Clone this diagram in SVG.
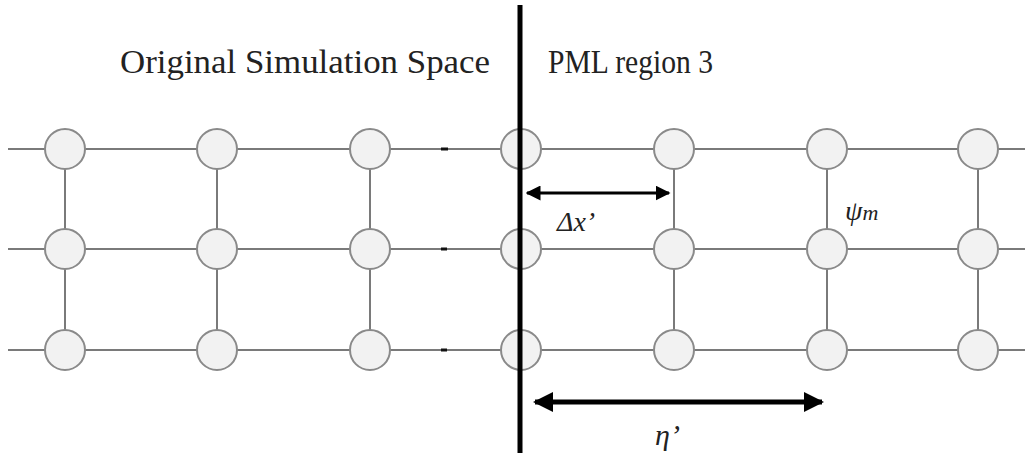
<svg xmlns="http://www.w3.org/2000/svg" width="1025" height="453" viewBox="0 0 1025 453">
<defs>
<style>
.ln{stroke:#7a7a7a;stroke-width:2;fill:none}
.nd{fill:#f2f2f2;stroke:#8a8a8a;stroke-width:2}
.tt{font-size:33px;fill:#222}
.it{font-style:italic;fill:#222}
.tk{stroke:#111;stroke-width:3}
</style>
<marker id="ah" viewBox="0 0 10 10" refX="9" refY="5" markerWidth="5" markerHeight="5" orient="auto-start-reverse">
<path d="M0,0 L10,5 L0,10 Z" fill="#000"/>
</marker>
<marker id="ah2" viewBox="0 0 10 10" refX="9" refY="5" markerWidth="4" markerHeight="4" orient="auto-start-reverse">
<path d="M0,0 L10,5 L0,10 Z" fill="#000"/>
</marker>
</defs>
<rect width="1025" height="453" fill="#fff"/>
<g id="connectors">
<line class="ln" x1="8" y1="149" x2="1025" y2="149"/>
<line class="ln" x1="8" y1="249" x2="1025" y2="249"/>
<line class="ln" x1="8" y1="350" x2="1025" y2="350"/>
<line class="ln" x1="65" y1="149" x2="65" y2="350"/>
<line class="ln" x1="217" y1="149" x2="217" y2="350"/>
<line class="ln" x1="370" y1="149" x2="370" y2="350"/>
<line class="ln" x1="674" y1="149" x2="674" y2="350"/>
<line class="ln" x1="827" y1="149" x2="827" y2="350"/>
<line class="ln" x1="978" y1="149" x2="978" y2="350"/>
<line class="tk" x1="441" y1="149" x2="448" y2="149"/>
<line class="tk" x1="441" y1="249" x2="447" y2="249" stroke-width="2"/>
<line class="tk" x1="441" y1="350" x2="447" y2="350" stroke-width="2"/>
</g>
<g id="nodes">
<g id="n11"><circle class="nd" cx="65" cy="149" r="20"/></g>
<g id="n12"><circle class="nd" cx="217" cy="149" r="20"/></g>
<g id="n13"><circle class="nd" cx="370" cy="149" r="20"/></g>
<g id="n14"><circle class="nd" cx="521" cy="149" r="20"/></g>
<g id="n15"><circle class="nd" cx="674" cy="149" r="20"/></g>
<g id="n16"><circle class="nd" cx="827" cy="149" r="20"/></g>
<g id="n17"><circle class="nd" cx="978" cy="149" r="20"/></g>
<g id="n21"><circle class="nd" cx="65" cy="249" r="20"/></g>
<g id="n22"><circle class="nd" cx="217" cy="249" r="20"/></g>
<g id="n23"><circle class="nd" cx="370" cy="249" r="20"/></g>
<g id="n24"><circle class="nd" cx="521" cy="249" r="20"/></g>
<g id="n25"><circle class="nd" cx="674" cy="249" r="20"/></g>
<g id="n26"><circle class="nd" cx="827" cy="249" r="20"/></g>
<g id="n27"><circle class="nd" cx="978" cy="249" r="20"/></g>
<g id="n31"><circle class="nd" cx="65" cy="350" r="20"/></g>
<g id="n32"><circle class="nd" cx="217" cy="350" r="20"/></g>
<g id="n33"><circle class="nd" cx="370" cy="350" r="20"/></g>
<g id="n34"><circle class="nd" cx="521" cy="350" r="20"/></g>
<g id="n35"><circle class="nd" cx="674" cy="350" r="20"/></g>
<g id="n36"><circle class="nd" cx="827" cy="350" r="20"/></g>
<g id="n37"><circle class="nd" cx="978" cy="350" r="20"/></g>
</g>
<g id="boundary">
<line x1="520" y1="5" x2="520" y2="453" stroke="#000" stroke-width="5"/>
</g>
<g id="dimensions">
<line x1="527" y1="193" x2="669" y2="193" stroke="#000" stroke-width="3" marker-start="url(#ah)" marker-end="url(#ah)"/>
<line x1="535" y1="402" x2="822" y2="402" stroke="#000" stroke-width="5" marker-start="url(#ah2)" marker-end="url(#ah2)"/>
</g>
<g id="labels" font-family="Liberation Serif, DejaVu Serif, serif">
<text class="tt" x="120" y="73" textLength="370" lengthAdjust="spacingAndGlyphs">Original Simulation Space</text>
<text class="tt" x="548" y="73" textLength="165" lengthAdjust="spacingAndGlyphs">PML region 3</text>
<text class="it" x="557" y="231" font-size="28">Δx’</text>
<text class="it" x="845" y="220" font-size="28">ψ<tspan font-size="22">m</tspan></text>
<text class="it" x="655" y="445" font-size="30">η’</text>
</g>
</svg>
